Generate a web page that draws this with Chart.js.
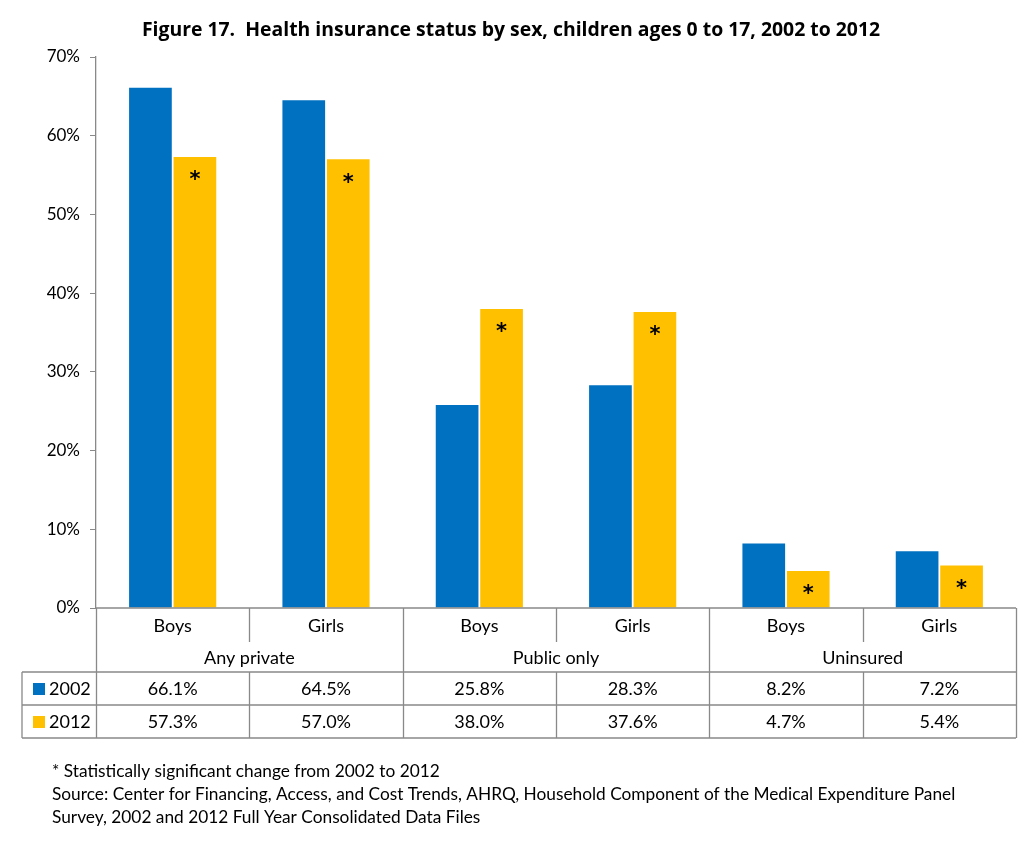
<!DOCTYPE html>
<html>
<head>
<meta charset="utf-8">
<script src="https://cdn.jsdelivr.net/npm/chart.js@4"></script>
<style>
  body { margin: 0; background: #fff; }
  #wrap { width: 1025px; height: 852px; position: relative; }
</style>
</head>
<body>
<div id="wrap"><canvas id="chart_canvas"></canvas></div>
<script>
// data
const SEXES = ['Boys', 'Girls', 'Boys', 'Girls', 'Boys', 'Girls'];
const GROUPS = ['Any private', 'Public only', 'Uninsured'];
const YEARS = ['2002', '2012'];
const VALUES_2002 = [66.1, 64.5, 25.8, 28.3, 8.2, 7.2];
const VALUES_2012 = [57.3, 57.0, 38.0, 37.6, 4.7, 5.4];
const SIGNIFICANT = [true, true, true, true, true, true];
const COLORS = ['#0070C0', '#FFC000'];
const TITLE = 'Figure 17.  Health insurance status by sex, children ages 0 to 17, 2002 to 2012';
const NOTES = [
    '* Statistically significant change from 2002 to 2012',
    'Source: Center for Financing, Access, and Cost Trends, AHRQ, Household Component of the Medical Expenditure Panel',
    'Survey, 2002 and 2012 Full Year Consolidated Data Files'
];

const FONT = 'Lato, "Open Sans", sans-serif';
const LINE = '#898989';

// table under the axis + title + notes + asterisks
const extras = {
    id: 'extras',
    afterDraw(chart) {
        const ctx = chart.ctx;
        const x = chart.scales.x;
        const area = chart.chartArea;
        const top = area.bottom;
        const rowSex = top + 34;
        const rowGrp = top + 64;
        const row1 = rowGrp + 33;
        const row2 = row1 + 33;
        const left = 22;
        const step = x.getPixelForValue(1) - x.getPixelForValue(0);
        const edge = i => x.getPixelForValue(i) - step / 2;

        ctx.save();
        // title
        ctx.fillStyle = '#000';
        ctx.font = 'bold 19.4px "Liberation Sans Narrow", "Open Sans", sans-serif';
        ctx.textAlign = 'center';
        ctx.textBaseline = 'middle';
        ctx.fillText(TITLE, 511, 30);

        // asterisks on 2012 bars
        const meta = chart.getDatasetMeta(1);
        ctx.font = 'bold 21px "DejaVu Sans", sans-serif';
        meta.data.forEach((bar, i) => {
            if (SIGNIFICANT[i]) ctx.fillText('*', bar.x, bar.y + 24);
        });

        // grid lines of table
        ctx.strokeStyle = LINE;
        ctx.lineWidth = 1.3;
        ctx.beginPath();
        ctx.moveTo(edge(0), top); ctx.lineTo(edge(6), top);
        ctx.moveTo(left, rowGrp); ctx.lineTo(edge(6), rowGrp);
        ctx.moveTo(left, row1); ctx.lineTo(edge(6), row1);
        ctx.moveTo(left, row2); ctx.lineTo(edge(6), row2);
        ctx.moveTo(left, rowGrp); ctx.lineTo(left, row2);
        for (let i = 0; i <= 6; i++) {
            const px = Math.round(edge(i)) + 0.5;
            if (i % 2 === 0) {
                ctx.moveTo(px, top); ctx.lineTo(px, row2);
            } else {
                ctx.moveTo(px, top); ctx.lineTo(px, rowSex);
                ctx.moveTo(px, rowGrp); ctx.lineTo(px, row2);
            }
        }
        ctx.stroke();

        // table text
        ctx.fillStyle = '#000';
        ctx.font = '18px ' + FONT;
        ctx.textAlign = 'center';
        for (let i = 0; i < SEXES.length; i++) {
            const cx = x.getPixelForValue(i);
            ctx.fillText(SEXES[i], cx, top + 18);
            ctx.fillText(VALUES_2002[i].toFixed(1) + '%', cx, rowGrp + 17);
            ctx.fillText(VALUES_2012[i].toFixed(1) + '%', cx, row1 + 17);
        }
        for (let g = 0; g < GROUPS.length; g++) {
            ctx.fillText(GROUPS[g], edge(g * 2 + 1), rowSex + 16);
        }
        // legend keys
        ctx.textAlign = 'left';
        [rowGrp, row1].forEach((r, k) => {
            ctx.fillStyle = COLORS[k];
            ctx.fillRect(33, r + 11, 12, 12);
            ctx.fillStyle = '#000';
            ctx.fillText(YEARS[k], 49, r + 17);
        });

        // footnotes
        ctx.font = '17.3px ' + FONT;
        NOTES.forEach((t, i) => ctx.fillText(t, 52, 771 + i * 23));
        ctx.restore();
    }
};

new Chart(document.getElementById('chart_canvas'), {
    type: 'bar',
    data: {
        labels: SEXES,
        datasets: [
            { label: YEARS[0], data: VALUES_2002, backgroundColor: COLORS[0] },
            { label: YEARS[1], data: VALUES_2012, backgroundColor: COLORS[1] }
        ]
    },
    options: {
        responsive: true,
        maintainAspectRatio: false,
        animation: false,
        categoryPercentage: 0.58,
        barPercentage: 0.96,
        layout: { padding: { left: 0, right: 9, top: 57, bottom: 244 } },
        plugins: {
            legend: { display: false },
            title: { display: false },
            tooltip: { enabled: false }
        },
        scales: {
            x: { display: false },
            y: {
                min: 0,
                max: 70,
                afterFit: s => { s.width = 96; },
                ticks: {
                    stepSize: 10,
                    color: '#000',
                    padding: 10,
                    font: { family: FONT, size: 17 },
                    callback: v => v + '%'
                },
                grid: { drawOnChartArea: false, tickLength: 6, color: LINE },
                border: { color: LINE, width: 1.3 }
            }
        }
    },
    plugins: [extras]
});
</script>
</body>
</html>
